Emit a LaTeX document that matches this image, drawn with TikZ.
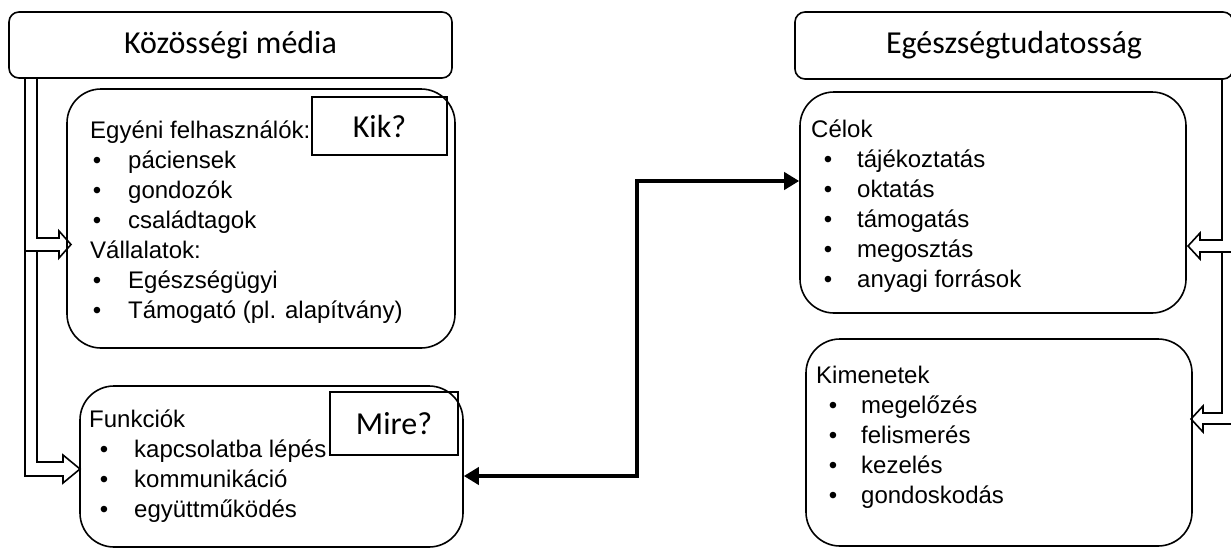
\documentclass[tikz,border=0pt]{standalone}
\usepackage{fontspec}
\setmainfont{Liberation Sans}
\newfontfamily\titlefont{Carlito}
\usetikzlibrary{arrows.meta}

\begin{document}
\begin{tikzpicture}[x=1pt,y=-1pt,
  box/.style={draw, line width=1.6pt, rounded corners=34pt, inner sep=0pt},
  titlebox/.style={draw, line width=1.6pt, rounded corners=10pt, inner sep=0pt,
    font=\titlefont\fontsize{32}{38}\selectfont},
  qbox/.style={draw, line width=1.6pt, inner sep=0pt,
    font=\titlefont\fontsize{32}{38}\selectfont},
  txt/.style={font=\fontsize{24}{28}\selectfont, inner sep=0pt, anchor=base west},
  bul/.style={font=\fontsize{24}{28}\selectfont, inner sep=0pt, anchor=base},
  hollow/.style={line width=1.6pt, line join=miter},
  link/.style={line width=4pt,
    {Triangle[length=15pt,width=17pt]}-{Triangle[length=15pt,width=17pt]}}
]
\useasboundingbox (0,0) rectangle (1231,549);

% title boxes
\node[titlebox, minimum width=443pt, minimum height=66pt] (titleL) at (230.5,45) {Közösségi média};
\node[titlebox, minimum width=438pt, minimum height=67pt] (titleR) at (1014,45.5) {Egészségtudatosság};

% content boxes
\node[box, minimum width=388pt, minimum height=259pt] (kik) at (261,218.5) {};
\node[box, minimum width=383pt, minimum height=161pt] (funk) at (271.5,466.5) {};
\node[box, minimum width=386pt, minimum height=221pt] (celok) at (993,202.5) {};
\node[box, minimum width=386pt, minimum height=207pt] (kimen) at (999,442.5) {};

% question tags
\node[qbox, minimum width=135pt, minimum height=58pt] (qkik) at (379.5,126) {Kik?};
\node[qbox, minimum width=128pt, minimum height=63pt] (qmire) at (394,423.5) {Mire?};

% who
\node[txt] (k0) at (90,138) {Egyéni felhasználók:};
\foreach \y/\t [count=\i] in {168/páciensek, 198/gondozók, 228/családtagok}
  {\node[bul] (kb\i) at (97,\y) {•}; \node[txt] (kt\i) at (128,\y) {\t};}
\node[txt] (k4) at (90,258) {Vállalatok:};
\foreach \y/\t [count=\i] in {288/Egészségügyi, 318/Támogató (pl. alapítvány)}
  {\node[bul] (vb\i) at (97,\y) {•}; \node[txt] (vt\i) at (128,\y) {\t};}

% functions
\node[txt] (f0) at (89,427) {Funkciók};
\foreach \y/\t [count=\i] in {457/kapcsolatba lépés, 487/kommunikáció, 517/együttműködés}
  {\node[bul] (fb\i) at (104,\y) {•}; \node[txt] (ft\i) at (134,\y) {\t};}

% goals
\node[txt] (c0) at (811,137) {Célok};
\foreach \y/\t [count=\i] in {167/tájékoztatás, 197/oktatás, 227/támogatás, 257/megosztás, 287/anyagi források}
  {\node[bul] (cb\i) at (828,\y) {•}; \node[txt] (ct\i) at (857,\y) {\t};}

% outcomes
\node[txt] (m0) at (816,383) {Kimenetek};
\foreach \y/\t [count=\i] in {413/megelőzés, 443/felismerés, 473/kezelés, 503/gondoskodás}
  {\node[bul] (mb\i) at (833,\y) {•}; \node[txt] (mt\i) at (861,\y) {\t};}

% two-way link between functions and goals
\coordinate (mid) at (637,181);
\draw[link] (funk.east |- 0,476) -| (mid) -- (celok.west |- mid);

% hollow feed arrows on the left
\draw[hollow] (titleL.south -| 37,0) -- (37,238) -- (59,238) -- (59,231) -- (71,244.5)
  -- (59,258) -- (59,251) -- (25,251);
\draw[hollow] (37,251) -- (37,462) -- (63,462) -- (63,455) -- (80,469) -- (63,483)
  -- (63,476) -- (25,476) -- (titleL.south -| 25,0);

% hollow feed arrows on the right
\draw[hollow] (titleR.south -| 1222,0) -- (1222,240) -- (1200,240) -- (1200,233) -- (1188,246)
  -- (1200,259) -- (1200,252) -- (1240,252);
\draw[hollow] (1222,252) -- (1222,413) -- (1203,413) -- (1203,406) -- (1191,419)
  -- (1203,432) -- (1203,424) -- (1240,424);
\end{tikzpicture}
\end{document}
